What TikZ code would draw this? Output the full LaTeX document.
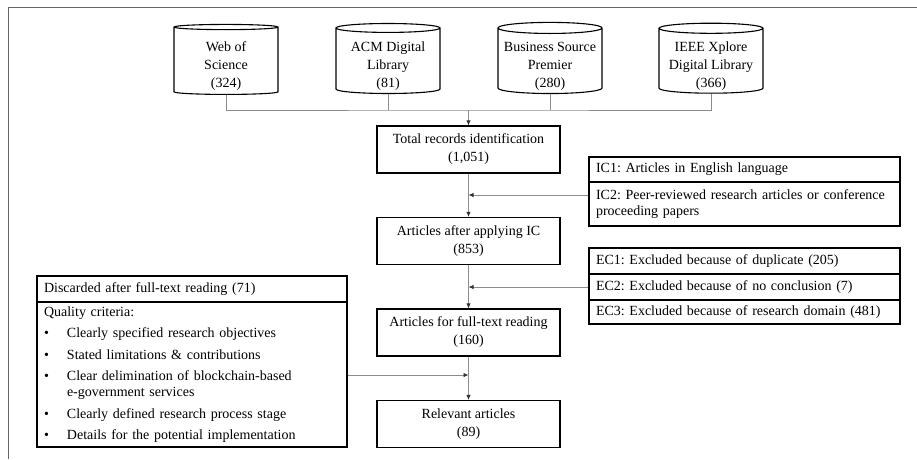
\documentclass[tikz,border=0pt]{standalone}
\usepackage{fontspec}
\setmainfont{Liberation Serif}
\usetikzlibrary{arrows.meta,shapes.geometric,positioning}

\newcommand{\dblabel}[3]{\raisebox{-4.5pt}[\height][\depth]{\begin{tabular}{@{}c@{}}#1\\#2\\#3\end{tabular}}}

\tikzset{
  txt/.style={font=\fontsize{14}{18}\selectfont\frenchspacing},
  db/.style={txt, shape=cylinder, shape border rotate=90, aspect=0.12, draw=black, line width=1.1pt,
    minimum width=104pt, minimum height=70pt, inner sep=0pt},
  stepbox/.style={txt, shape=rectangle, draw=black, line width=1.1pt, minimum width=183pt,
    minimum height=47pt, align=center},
  critbox/.style={txt, shape=rectangle, draw=black, line width=1.1pt, text width=297pt,
    inner xsep=7pt, inner ysep=0pt, align=left},
  conn/.style={draw=black!45, line width=0.8pt},
  arr/.style={conn, -{Latex[length=5pt,width=4.5pt,color=black!80]}},
  frame/.style={draw=black!60, line width=0.8pt}
}

\begin{document}
\begin{tikzpicture}[x=1pt, y=-1pt]
\useasboundingbox (0,0) rectangle (917,459);
\draw[frame] (8,459) -- (8,7) -- (917,7);
\node[db] (wos) at (226,61) {\dblabel{Web of}{Science}{(324)}};
\node[db] (acm) at (388,61) {\dblabel{ACM Digital}{Library}{(81)}};
\node[db] (bsp) at (550,61) {\dblabel{Business Source}{Premier}{(280)}};
\node[db] (ieee) at (711,61) {\dblabel{IEEE Xplore}{Digital Library}{(366)}};
\coordinate (bus) at (468.5,110);
\node[stepbox] (total) at (468.5,149.5) {Total records identification\\(1,051)};
\node[stepbox] (after) at (468.5,241) {Articles after applying IC\\(853)};
\node[stepbox] (full) at (468.5,332.5) {Articles for full-text reading\\(160)};
\node[stepbox] (rel) at (468.5,424) {Relevant articles\\(89)};
\node[critbox, minimum height=25pt] (ic1) at (744.5,169.5) {IC1: Articles in English language};
\node[critbox, minimum height=44pt, font=\fontsize{14}{16.5}\selectfont\frenchspacing] (ic2) at (744.5,204) {\mbox{IC2: Peer-reviewed research articles or conference}\\proceeding papers};
\node[critbox, minimum height=26pt] (ec1) at (744.5,261) {EC1: Excluded because of duplicate (205)};
\node[critbox, minimum height=26pt] (ec2) at (744.5,287) {EC2: Excluded because of no conclusion (7)};
\node[critbox, minimum height=24pt] (ec3) at (744.5,312) {EC3: Excluded because of research domain (481)};
\node[critbox, text width=296pt, minimum height=26pt] (dhead) at (192,289) {Discarded after full-text reading (71)};
\node[critbox, text width=296pt, minimum height=145pt, font=\fontsize{14}{16}\selectfont\frenchspacing] (dbody) at (192,374.5) {Quality criteria:\\[5.5pt]
\makebox[23pt][l]{\textbullet}Clearly specified research objectives\\[5.5pt]
\makebox[23pt][l]{\textbullet}Stated limitations \& contributions\\[5.5pt]
\makebox[23pt][l]{\textbullet}Clear delimination of blockchain-based\\
\hspace*{23pt}e-government services\\[5.5pt]
\makebox[23pt][l]{\textbullet}Clearly defined research process stage\\[5.5pt]
\makebox[23pt][l]{\textbullet}Details for the potential implementation};
\coordinate (icjoin) at (468.5,195);
\coordinate (ecjoin) at (468.5,287);
\coordinate (djoin) at (468.5,375);
\draw[conn] (wos.south) |- (bus) -| (ieee.south);
\draw[conn] (acm.south) -- (acm.south |- bus);
\draw[conn] (bsp.south) -- (bsp.south |- bus);
\draw[arr] (bus) -- (total.north);
\draw[arr] (total.south) -- (after.north);
\draw[arr] (after.south) -- (full.north);
\draw[arr] (full.south) -- (rel.north);
\draw[arr] (ic2.west |- icjoin) -- (icjoin);
\draw[arr] (ec2.west) -- (ecjoin);
\draw[arr] (dbody.east |- djoin) -- (djoin);
\end{tikzpicture}
\end{document}
